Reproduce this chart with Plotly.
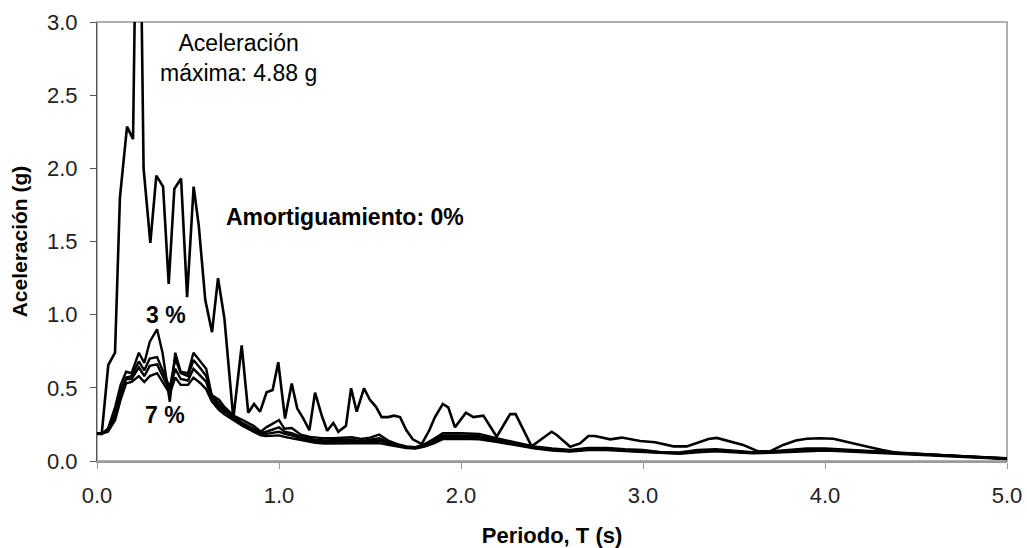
import plotly.graph_objects as go

# Undamped response spectrum (period in s, spectral acceleration in g)
t_0 = [0.0, 0.026, 0.062, 0.099, 0.126, 0.165, 0.198, 0.227, 0.256, 0.293,
       0.326, 0.363, 0.394, 0.425, 0.462, 0.495, 0.531, 0.559, 0.595, 0.632,
       0.665, 0.70, 0.749, 0.795, 0.831, 0.863, 0.896, 0.932, 0.965, 0.996,
       1.033, 1.07, 1.10, 1.134, 1.167, 1.198, 1.235, 1.265, 1.298, 1.326,
       1.368, 1.396, 1.427, 1.467, 1.50, 1.533, 1.564, 1.60, 1.632, 1.665,
       1.70, 1.735, 1.784, 1.826, 1.857, 1.90, 1.93, 1.967, 2.027, 2.068,
       2.123, 2.196, 2.27, 2.30, 2.388, 2.498, 2.526, 2.60, 2.654, 2.70,
       2.736, 2.82, 2.883, 2.984, 3.066, 3.167, 3.24, 3.30, 3.36, 3.405,
       3.478, 3.55, 3.63, 3.70, 3.77, 3.84, 3.90, 3.97, 4.046, 4.12,
       4.17, 4.247, 4.315, 4.40, 4.50, 4.72, 5.0]
sa_0 = [0.185, 0.185, 0.656, 0.74, 1.80, 2.285, 2.20, 4.88, 2.0, 1.49,
        1.95, 1.875, 1.21, 1.86, 1.93, 1.12, 1.875, 1.61, 1.10, 0.88,
        1.25, 0.975, 0.29, 0.79, 0.33, 0.39, 0.337, 0.47, 0.485, 0.675,
        0.29, 0.53, 0.36, 0.29, 0.21, 0.467, 0.31, 0.207, 0.26, 0.20,
        0.24, 0.497, 0.337, 0.497, 0.417, 0.37, 0.30, 0.30, 0.31, 0.30,
        0.21, 0.148, 0.116, 0.21, 0.30, 0.39, 0.367, 0.23, 0.33, 0.30,
        0.31, 0.166, 0.32, 0.32, 0.10, 0.20, 0.178, 0.098, 0.12, 0.171,
        0.171, 0.148, 0.16, 0.137, 0.128, 0.10, 0.10, 0.125, 0.15, 0.158,
        0.132, 0.11, 0.067, 0.067, 0.11, 0.14, 0.152, 0.155, 0.152, 0.132,
        0.12, 0.094, 0.075, 0.055, 0.048, 0.034, 0.018]

# Damped spectra share one period grid
t_d = [0.0, 0.03, 0.06, 0.10, 0.13, 0.16, 0.19, 0.23, 0.26, 0.29,
       0.33, 0.36, 0.40, 0.43, 0.46, 0.50, 0.53, 0.57, 0.60, 0.63,
       0.67, 0.70, 0.75, 0.80, 0.86, 0.90, 0.93, 1.00, 1.03, 1.07,
       1.12, 1.17, 1.20, 1.25, 1.30, 1.35, 1.40, 1.45, 1.50, 1.55,
       1.60, 1.65, 1.70, 1.75, 1.80, 1.85, 1.90, 2.00, 2.10, 2.20,
       2.30, 2.40, 2.50, 2.60, 2.70, 2.80, 2.90, 3.00, 3.10, 3.20,
       3.30, 3.40, 3.50, 3.60, 3.70, 3.80, 3.90, 4.00, 4.10, 4.20,
       4.30, 4.40, 4.50, 4.60, 4.70, 4.80, 4.90, 5.00]
sa_3 = [0.19, 0.19, 0.22, 0.37, 0.52, 0.61, 0.60, 0.74, 0.67, 0.815,
        0.90, 0.74, 0.405, 0.74, 0.61, 0.60, 0.74, 0.68, 0.63, 0.45,
        0.42, 0.37, 0.31, 0.28, 0.24, 0.20, 0.23, 0.28, 0.22, 0.225,
        0.18, 0.165, 0.16, 0.155, 0.155, 0.16, 0.162, 0.15, 0.16, 0.18,
        0.14, 0.115, 0.10, 0.095, 0.115, 0.15, 0.19, 0.19, 0.185, 0.155,
        0.13, 0.10, 0.085, 0.075, 0.09, 0.09, 0.08, 0.075, 0.06, 0.058,
        0.075, 0.08, 0.07, 0.06, 0.065, 0.075, 0.085, 0.085, 0.078, 0.07,
        0.062, 0.055, 0.048, 0.042, 0.035, 0.028, 0.022, 0.018]
sa_4 = [0.19, 0.19, 0.21, 0.33, 0.48, 0.57, 0.58, 0.68, 0.62, 0.70,
        0.71, 0.62, 0.50, 0.70, 0.60, 0.58, 0.69, 0.63, 0.58, 0.45,
        0.39, 0.35, 0.30, 0.26, 0.22, 0.19, 0.20, 0.23, 0.20, 0.19,
        0.165, 0.15, 0.145, 0.14, 0.14, 0.145, 0.145, 0.135, 0.145, 0.155,
        0.13, 0.11, 0.095, 0.09, 0.11, 0.14, 0.175, 0.175, 0.17, 0.145,
        0.12, 0.095, 0.08, 0.07, 0.085, 0.085, 0.075, 0.07, 0.058, 0.055,
        0.07, 0.075, 0.066, 0.058, 0.062, 0.07, 0.08, 0.08, 0.074, 0.067,
        0.06, 0.053, 0.046, 0.04, 0.033, 0.027, 0.021, 0.017]
sa_5 = [0.19, 0.19, 0.21, 0.31, 0.45, 0.56, 0.56, 0.64, 0.58, 0.65,
        0.66, 0.58, 0.48, 0.63, 0.56, 0.55, 0.63, 0.58, 0.54, 0.43,
        0.37, 0.34, 0.29, 0.25, 0.21, 0.18, 0.185, 0.20, 0.185, 0.175,
        0.155, 0.14, 0.135, 0.13, 0.132, 0.135, 0.135, 0.128, 0.135, 0.14,
        0.12, 0.105, 0.092, 0.088, 0.105, 0.13, 0.165, 0.165, 0.16, 0.14,
        0.115, 0.09, 0.076, 0.068, 0.08, 0.08, 0.072, 0.066, 0.056, 0.053,
        0.066, 0.072, 0.064, 0.056, 0.06, 0.067, 0.076, 0.077, 0.071, 0.064,
        0.058, 0.051, 0.045, 0.039, 0.032, 0.026, 0.020, 0.016]
sa_7 = [0.19, 0.19, 0.20, 0.28, 0.42, 0.53, 0.54, 0.58, 0.54, 0.58,
        0.60, 0.54, 0.46, 0.57, 0.52, 0.52, 0.57, 0.53, 0.49, 0.41,
        0.35, 0.32, 0.28, 0.24, 0.20, 0.175, 0.17, 0.175, 0.165, 0.155,
        0.14, 0.128, 0.125, 0.12, 0.12, 0.122, 0.122, 0.118, 0.12, 0.122,
        0.11, 0.098, 0.088, 0.085, 0.098, 0.12, 0.15, 0.152, 0.148, 0.13,
        0.108, 0.086, 0.072, 0.065, 0.074, 0.075, 0.068, 0.062, 0.053, 0.05,
        0.06, 0.066, 0.06, 0.053, 0.056, 0.062, 0.07, 0.072, 0.067, 0.061,
        0.055, 0.049, 0.043, 0.037, 0.031, 0.025, 0.019, 0.014]

x_ticks = [0, 1, 2, 3, 4, 5]
x_tick_text = ["0.0", "1.0", "2.0", "3.0", "4.0", "5.0"]
y_ticks = [0, 0.5, 1.0, 1.5, 2.0, 2.5, 3.0]
y_tick_text = ["0.0", "0.5", "1.0", "1.5", "2.0", "2.5", "3.0"]

FONT = "Liberation Sans, Arial, sans-serif"
FS = 22
FS_NOTE = 23

fig = go.Figure()
for name, ys in [("7 %", sa_7), ("5 %", sa_5), ("4 %", sa_4), ("3 %", sa_3)]:
    fig.add_trace(go.Scatter(x=t_d, y=ys, mode="lines", name=name,
                             line=dict(color="black", width=2.4)))
fig.add_trace(go.Scatter(x=t_0, y=sa_0, mode="lines", name="0 %",
                         line=dict(color="black", width=2.6)))

# light frame around the plotting area
fig.add_shape(type="rect", xref="paper", yref="paper", x0=0, y0=0, x1=1, y1=1,
              line=dict(color="#b0b0b0", width=2), layer="below")

fig.add_annotation(x=0.775, y=2.755, xref="x", yref="y",
                   text="Aceleración<br>máxima: 4.88 g", showarrow=False,
                   font=dict(family=FONT, size=FS_NOTE, color="black"), align="center")
fig.add_annotation(x=1.36, y=1.67, xref="x", yref="y",
                   text="<b>Amortiguamiento: 0%</b>", showarrow=False,
                   font=dict(family=FONT, size=FS_NOTE, color="black"))
fig.add_annotation(x=0.38, y=0.995, xref="x", yref="y", text="<b>3 %</b>",
                   showarrow=False, font=dict(family=FONT, size=FS_NOTE, color="black"))
fig.add_annotation(x=0.375, y=0.315, xref="x", yref="y", text="<b>7 %</b>",
                   showarrow=False, font=dict(family=FONT, size=FS_NOTE, color="black"))

fig.update_layout(
    width=1027, height=548,
    margin=dict(l=97, r=20, t=22, b=87, autoexpand=False),
    paper_bgcolor="white", plot_bgcolor="white",
    showlegend=False,
    font=dict(family=FONT, size=FS, color="#222"),
    xaxis=dict(range=[0, 5], tickvals=x_ticks, ticktext=x_tick_text,
               showgrid=False, zeroline=False, showline=True,
               linecolor="#9a9a9a", linewidth=2, ticks="outside",
               ticklen=6, tickcolor="#9a9a9a", tickwidth=1,
               ticklabelstandoff=8, automargin=False,
               title=dict(text="<b>Periodo, T (s)</b>", standoff=22,
                          font=dict(family=FONT, size=FS, color="black"))),
    yaxis=dict(range=[0, 3], tickvals=y_ticks, ticktext=y_tick_text,
               showgrid=False, zeroline=False, showline=True,
               linecolor="#555555", linewidth=1, ticks="outside",
               ticklen=6, tickcolor="#555555", tickwidth=1,
               ticklabelstandoff=8, automargin=False,
               title=dict(text="<b>Aceleración (g)</b>", standoff=13,
                          font=dict(family=FONT, size=21, color="black"))),
)

fig.write_html("out.html")
